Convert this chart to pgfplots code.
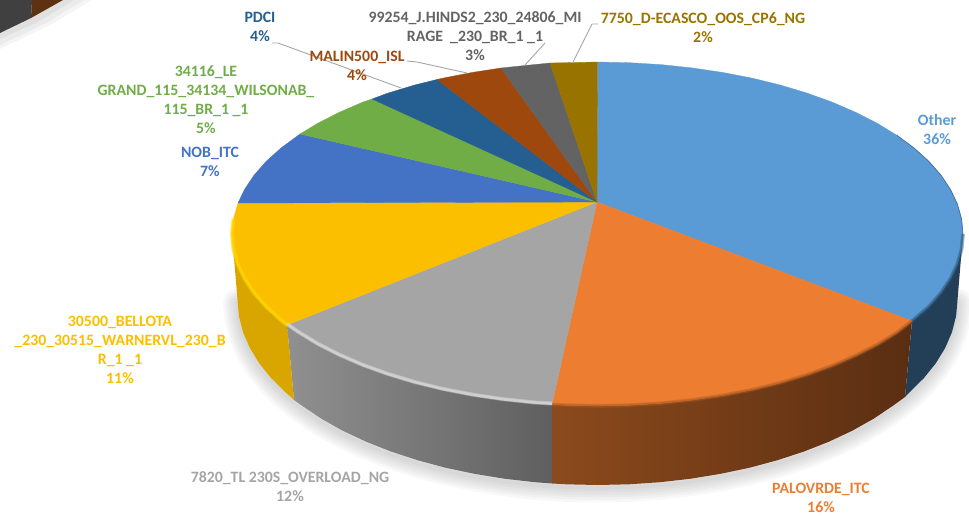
\documentclass[border=0pt]{standalone}
\usepackage{pgfplots}
\pgfplotsset{compat=1.18}
\usepackage{fontspec}
\setmainfont{Carlito}
\definecolor{cOther}{HTML}{5B9BD5}
\definecolor{cOrange}{HTML}{ED7D31}
\definecolor{cGray}{HTML}{A5A5A5}
\definecolor{cYellow}{HTML}{FCBF00}
\definecolor{cNob}{HTML}{4472C4}
\definecolor{cGreen}{HTML}{70AD47}
\definecolor{cPdci}{HTML}{255E91}
\definecolor{cBrown}{HTML}{9E480E}
\definecolor{cDGray}{HTML}{636363}
\definecolor{cGold}{HTML}{997300}
\definecolor{cLead}{HTML}{A6A6A6}
\definecolor{sideB}{HTML}{233F57}
\definecolor{sideO1}{HTML}{8C4A1C}
\definecolor{sideO2}{HTML}{5F3113}
\definecolor{sideO3}{HTML}{5A2E12}
\definecolor{sideG1}{HTML}{909090}
\definecolor{sideG2}{HTML}{5F5F5F}
\definecolor{sideY}{HTML}{D9A600}
\definecolor{rimB}{HTML}{2F5678}
\definecolor{rimO}{HTML}{A85A24}
\definecolor{rimG}{HTML}{DADADA}
\definecolor{rimY}{HTML}{FFD500}
\newcommand{\lab}[4]{\node[text=#1,align=center,font=\fontsize{15.8}{19}\selectfont\bfseries,inner sep=0pt] at (axis cs:#2,#3) {#4};}
\begin{document}
\begin{tikzpicture}
\useasboundingbox (0,0) rectangle (969pt,515pt);
\begin{axis}[at={(0,0)},anchor=south west,scale only axis,width=969pt,height=515pt,
  xmin=0,xmax=969,ymin=0,ymax=515,y dir=reverse,hide axis,clip=true]
% corner fragment of the neighbouring pie
\addplot[fill=black!4,draw=none] coordinates {(0,0)(92,0)(52,24)(0,49)};
\addplot[fill=black!8,draw=none] coordinates {(0,0)(84,0)(46,23)(0,45)};
\addplot[fill=black!12,draw=none] coordinates {(0,0)(74,0)(38,22)(0,39)};
\addplot[fill=black!75,draw=none] coordinates {(0,0)(32,0)(31,18)(0,33)};
\addplot[fill=sideO2,draw=none] coordinates {(32,0)(63,0)(31,18)};
% soft shadow
\pgfplotsinvokeforeach{4,9,14,19,24,29}{
\addplot[draw=black,opacity=0.028,line width=#1pt,line cap=round,line join=round,yshift=-3pt] coordinates {(957.5,300)(956.1,316.1)(952,332.1)(945.2,347.9)(935.8,363.3)(923.8,378.2)(909.3,392.5)(892.4,406.1)(873.3,418.9)(852.1,430.8)(828.9,441.7)(804,451.5)(777.5,460.2)(749.6,467.7)(720.6,473.8)(690.7,478.7)(660,482.2)(628.9,484.3)(597.5,485)(566.1,484.3)(535,482.2)(504.3,478.7)(474.4,473.8)(445.4,467.7)(417.5,460.2)(391,451.5)(366.1,441.7)(342.9,430.8)(321.7,418.9)(302.6,406.1)(285.7,392.5)(271.2,378.2)(259.2,363.3)(249.8,347.9)(243,332.1)(238.9,316.1)(237.5,300)};
}
% sides
\addplot[fill=sideB,draw=none] coordinates {(963,234)(961.6,249)(957.4,263.9)(950.5,278.5)(941,292.8)(928.8,306.7)(912,321)(905,397)(909.3,392.5)(923.8,378.2)(935.8,363.3)(945.2,347.9)(952,332.1)(956.1,316.1)(957.5,300)};
\addplot[draw=none,left color=sideO1,middle color=sideO2,right color=sideO3] coordinates {(912,321)(896.9,332.7)(877.5,344.6)(855.9,355.6)(832.4,365.8)(807.1,374.9)(780.3,383)(752,389.9)(722.5,395.6)(692.1,400.1)(661,403.4)(629.4,405.3)(597.5,406)(565.6,405.3)(552,404.5)(552,483.5)(566.1,484.3)(597.5,485)(628.9,484.3)(660,482.2)(690.7,478.7)(720.6,473.8)(749.6,467.7)(777.5,460.2)(804,451.5)(828.9,441.7)(852.1,430.8)(873.3,418.9)(892.4,406.1)(905,397)};
\addplot[draw=none,left color=sideG1,right color=sideG2] coordinates {(552,404.5)(534,403.4)(502.9,400.1)(472.5,395.6)(443,389.9)(414.7,383)(387.9,374.9)(362.6,365.8)(339.1,355.6)(317.5,344.6)(298.1,332.7)(287,325)(294,400)(302.6,406.1)(321.7,418.9)(342.9,430.8)(366.1,441.7)(391,451.5)(417.5,460.2)(445.4,467.7)(474.4,473.8)(504.3,478.7)(535,482.2)(552,483.5)};
\addplot[fill=sideY,draw=none] coordinates {(287,325)(281,320)(266.2,306.7)(254,292.8)(244.5,278.5)(237.6,263.9)(233.4,249)(232,234)(237.5,300)(238.9,316.1)(243,332.1)(249.8,347.9)(259.2,363.3)(271.2,378.2)(285.7,392.5)(294,400)};
% top face
\addplot[fill=cOther,draw=cOther,line width=0.3pt] coordinates {(597,202)(597.5,62)(629.4,62.7)(661,64.6)(692.1,67.9)(722.5,72.4)(752,78.1)(780.3,85)(807.1,93.1)(832.4,102.2)(855.9,112.4)(877.5,123.4)(896.9,135.3)(914,148)(928.8,161.3)(941,175.2)(950.5,189.5)(957.4,204.1)(961.6,219)(963,234)(961.6,249)(957.4,263.9)(950.5,278.5)(941,292.8)(928.8,306.7)(912,321)(597,202)};
\addplot[fill=cOrange,draw=cOrange,line width=0.3pt] coordinates {(597,202)(912,321)(896.9,332.7)(877.5,344.6)(855.9,355.6)(832.4,365.8)(807.1,374.9)(780.3,383)(752,389.9)(722.5,395.6)(692.1,400.1)(661,403.4)(629.4,405.3)(597.5,406)(565.6,405.3)(552,404.5)(597,202)};
\addplot[fill=cGray,draw=cGray,line width=0.3pt] coordinates {(597,202)(552,404.5)(534,403.4)(502.9,400.1)(472.5,395.6)(443,389.9)(414.7,383)(387.9,374.9)(362.6,365.8)(339.1,355.6)(317.5,344.6)(298.1,332.7)(287,325)(597,202)};
\addplot[fill=cYellow,draw=cYellow,line width=0.3pt] coordinates {(597,202)(287,325)(281,320)(266.2,306.7)(254,292.8)(244.5,278.5)(237.6,263.9)(233.4,249)(232,234)(233.4,219)(238,203)(597,202)};
\addplot[fill=cNob,draw=cNob,line width=0.3pt] coordinates {(597,202)(238,203)(244.5,189.5)(254,175.2)(266.2,161.3)(281,148)(300,134)(597,202)};
\addplot[fill=cGreen,draw=cGreen,line width=0.3pt] coordinates {(597,202)(300,134)(317.5,123.4)(339.1,112.4)(362.6,102.2)(372,99)(597,202)};
\addplot[fill=cPdci,draw=cPdci,line width=0.3pt] coordinates {(597,202)(372,99)(387.9,93.1)(414.7,85)(437,79.5)(597,202)};
\addplot[fill=cBrown,draw=cBrown,line width=0.3pt] coordinates {(597,202)(437,79.5)(443,78.1)(472.5,72.4)(501,68)(597,202)};
\addplot[fill=cDGray,draw=cDGray,line width=0.3pt] coordinates {(597,202)(501,68)(534,64.6)(550,63)(597,202)};
\addplot[fill=cGold,draw=cGold,line width=0.3pt] coordinates {(597,202)(550,63)(565.6,62.7)(597.5,62)(597,202)};
% bevel rims (layered to look soft)
\addplot[draw=rimB,line width=0.7pt,opacity=0.7] coordinates {(896.9,135.3)(914,148)(928.8,161.3)(941,175.2)(950.5,189.5)(957.4,204.1)(961.6,219)(963,234)};
\pgfplotsinvokeforeach{4,2.8,1.6}{
\addplot[draw=rimB,line width=#1pt,opacity=0.3] coordinates {(963,234)(961.6,249)(957.4,263.9)(950.5,278.5)(941,292.8)(928.8,306.7)(912,321)};
\addplot[draw=rimO,line width=#1pt,opacity=0.3] coordinates {(912,321)(896.9,332.7)(877.5,344.6)(855.9,355.6)(832.4,365.8)(807.1,374.9)(780.3,383)(752,389.9)(722.5,395.6)(692.1,400.1)(661,403.4)(629.4,405.3)(597.5,406)(565.6,405.3)(552,404.5)};
\addplot[draw=rimG,line width=#1pt,opacity=0.45] coordinates {(552,403.5)(534,402.4)(502.9,399.1)(472.5,394.6)(443,388.9)(414.7,382)(387.9,373.9)(362.6,364.8)(339.1,354.6)(317.5,343.6)(298.1,331.7)(287,324)};
\addplot[draw=rimY,line width=#1pt,opacity=0.5] coordinates {(287,325)(281,320)(266.2,306.7)(254,292.8)(244.5,278.5)(237.6,263.9)(233.4,249)(232,234)(233.4,219)};
}
% leader lines
\addplot[draw=cLead,line width=0.9pt] coordinates {(272,43)(278,43)(401,88)};
\addplot[draw=cLead,line width=0.9pt] coordinates {(407,61)(417,62)(467,73)};
\addplot[draw=cLead,line width=0.9pt] coordinates {(545,43)(525,65)};
\addplot[draw=cLead,line width=0.9pt] coordinates {(598,24)(592,24)(573,62)};
% labels
\lab{cOther}{937}{130}{Other\\36\%}
\lab{cOrange}{821}{498}{PALOVRDE\_ITC\\16\%}
\lab{cGray}{290}{487}{7820\_TL 230S\_OVERLOAD\_NG\\12\%}
\lab{cYellow}{120}{350}{30500\_BELLOTA\\\_230\_30515\_WARNERVL\_230\_B\\R\_1 \_1\\11\%}
\lab{cNob}{210}{162}{NOB\_ITC\\7\%}
\lab{cGreen}{206}{100}{34116\_LE\\GRAND\_115\_34134\_WILSONAB\_\\115\_BR\_1 \_1\\5\%}
\lab{cPdci}{260}{27}{PDCI\\4\%}
\lab{cBrown}{357}{66}{MALIN500\_ISL\\4\%}
\lab{cDGray}{475}{36}{99254\_J.HINDS2\_230\_24806\_MI\\RAGE \ \_230\_BR\_1 \_1\\3\%}
\lab{cGold}{703}{28}{7750\_D-ECASCO\_OOS\_CP6\_NG\\2\%}
\end{axis}
\end{tikzpicture}
\end{document}
